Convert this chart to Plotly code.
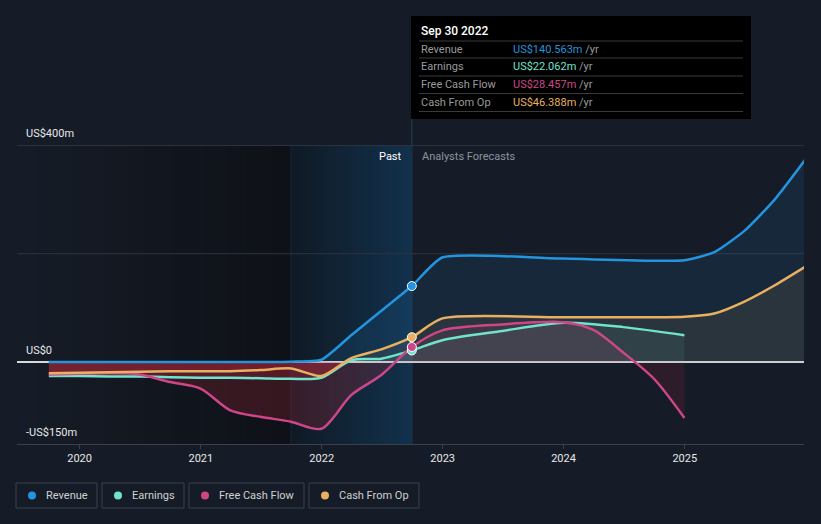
import plotly.graph_objects as go
import pandas as pd

# ---------------- data (US$ m, trailing twelve months / forecasts) ----------------
rev_dates = ["2019-09-30", "2019-12-31", "2020-03-31", "2020-06-30", "2020-09-30", "2020-12-31",
             "2021-03-31", "2021-06-30", "2021-09-30", "2021-12-31", "2022-03-31", "2022-06-30",
             "2022-09-30", "2022-12-31", "2023-12-31", "2024-12-31", "2025-03-31", "2025-06-30",
             "2025-09-30", "2025-12-31"]
rev_vals = [1, 1, 1, 1, 1, 1, 1, 1, 1.5, 5, 50, 95, 140.563, 193, 191, 188, 203, 242, 300, 373]

earn_dates = ["2019-09-30", "2019-12-31", "2020-03-31", "2020-06-30", "2020-09-30", "2020-12-31",
              "2021-03-31", "2021-06-30", "2021-09-30", "2021-12-31", "2022-03-31", "2022-06-30",
              "2022-09-30", "2022-12-31", "2023-06-30", "2023-12-31", "2024-06-30", "2024-12-31"]
earn_vals = [-25, -25, -26, -26, -27, -28, -28, -29, -30, -28, 4, 7, 22.062, 41, 58, 73, 65, 50]

fcf_dates = ["2019-09-30", "2019-12-31", "2020-03-31", "2020-06-30", "2020-09-30", "2020-12-31",
             "2021-03-31", "2021-06-30", "2021-09-30", "2021-12-31", "2022-03-31", "2022-06-30",
             "2022-09-30", "2022-12-31", "2023-06-30", "2023-12-31", "2024-03-31", "2024-06-30",
             "2024-09-30", "2024-12-31"]
fcf_vals = [-22, -21, -20, -22, -36, -48, -88, -100, -109, -122, -60, -23, 28.457, 59, 70, 74, 60,
            18, -30, -102]

cfo_dates = ["2019-09-30", "2019-12-31", "2020-03-31", "2020-06-30", "2020-09-30", "2020-12-31",
             "2021-03-31", "2021-06-30", "2021-09-30", "2021-12-31", "2022-03-31", "2022-06-30",
             "2022-09-30", "2022-12-31", "2023-12-31", "2024-12-31", "2025-03-31", "2025-06-30",
             "2025-09-30", "2025-12-31"]
cfo_vals = [-20, -19, -18, -17, -16, -16, -16, -14, -11, -25, 8, 24, 46.388, 81, 83, 84, 90, 112,
            142, 176]

series_names = ["Revenue", "Earnings", "Free Cash Flow", "Cash From Op"]
series_colors = ["#2394df", "#6fe3cc", "#cf4688", "#e9b062"]
pos_fill = ["rgba(35,148,223,0.10)", "rgba(111,227,204,0.08)",
            "rgba(207,70,136,0.12)", "rgba(233,176,98,0.09)"]
neg_fill_past = "rgba(215,45,65,0.20)"
neg_fill_future = "rgba(215,45,65,0.12)"
smooth = [0.55, 0.8, 0.8, 0.7]

x_ticks = ["2020-01-01", "2021-01-01", "2022-01-01", "2023-01-01", "2024-01-01", "2025-01-01"]
x_tick_labels = ["2020", "2021", "2022", "2023", "2024", "2025"]
y_grid = [200, 399.2]
y_labels = {"US$400m": 400, "US$0": 0, "-US$150m": -150}

x_range = ["2019-06-26", "2025-12-27"]
y_range = [-150, 400]
past_start = "2021-09-30"
now_date = "2022-09-30"
tooltip_title = "Sep 30 2022"

# ---------------- layout helpers ----------------
W, H = 821, 524
L, R, T, B = 17, 17, 145, 80
PW, PH = W - L - R, H - T - B


def px(x):
    return (x - L) / PW


def py(y):
    return (H - B - y) / PH


BG = (22, 28, 39)
BG_HEX = "#161c27"
FONT = "Roboto"


def mix(c0, c1, t):
    return "rgb(%d,%d,%d)" % tuple(round(a + (b - a) * t) for a, b in zip(c0, c1))


shapes = []
annotations = []


# background gradients drawn as thin opaque strips
def strip_band(d0, d1, c0, c1, n):
    t0, t1 = pd.Timestamp(d0), pd.Timestamp(d1)
    step = (t1 - t0) / n
    for k in range(n):
        a = t0 + step * k
        b = t0 + step * (k + 1.6) if k < n - 1 else t1
        shapes.append(dict(type="rect", xref="x", yref="y", x0=a, x1=b,
                           y0=y_range[0], y1=y_range[1], layer="below",
                           fillcolor=mix(c0, c1, k / (n - 1)), line=dict(width=0)))


strip_band(x_range[0], past_start, BG, (14, 17, 23), 60)
strip_band(past_start, now_date, (16, 26, 37), (18, 49, 76), 50)

# grid lines (above the background bands)
for g in y_grid:
    shapes.append(dict(type="line", xref="x", yref="y", x0=x_range[0], x1=x_range[1],
                       y0=g, y1=g, layer="below", line=dict(color="#2e3440", width=1)))

fig = go.Figure()

data = [(rev_dates, rev_vals), (earn_dates, earn_vals), (fcf_dates, fcf_vals), (cfo_dates, cfo_vals)]
now_ts = pd.Timestamp(now_date)


def sign_segments(dates, vals):
    ts = [pd.Timestamp(d) for d in dates]
    segs = []
    cur_x, cur_y = [ts[0]], [vals[0]]
    for i in range(len(vals) - 1):
        v0, v1 = vals[i], vals[i + 1]
        if (v0 < 0) != (v1 < 0):
            tz = ts[i] + (ts[i + 1] - ts[i]) * (v0 / (v0 - v1))
            cur_x.append(tz)
            cur_y.append(0)
            segs.append((cur_x, cur_y))
            cur_x, cur_y = [tz], [0]
        cur_x.append(ts[i + 1])
        cur_y.append(v1)
    segs.append((cur_x, cur_y))
    return segs


# fills (sign dependent colour)
for i, (d, v) in enumerate(data):
    for sx, sy in sign_segments(d, v):
        neg = sum(sy) < 0
        if neg:
            fc = neg_fill_past if sx[0] < now_ts else neg_fill_future
        else:
            fc = pos_fill[i]
        fig.add_trace(go.Scatter(
            x=sx, y=sy, mode="lines",
            line=dict(width=0, shape="spline", smoothing=smooth[i]),
            fill="tozeroy", fillcolor=fc, hoverinfo="skip", showlegend=False))

# lines
for i, ((d, v), name, c) in enumerate(zip(data, series_names, series_colors)):
    fig.add_trace(go.Scatter(
        x=d, y=v, name=name, mode="lines",
        line=dict(color=c, width=2.5, shape="spline", smoothing=smooth[i]),
        hoverinfo="skip", showlegend=False))

# markers at the current date
order = [1, 2, 3, 0]
mk_x, mk_y, mk_c = [], [], []
for i in order:
    d, v = data[i]
    j = d.index(now_date)
    mk_x.append(d[j])
    mk_y.append(v[j])
    mk_c.append(series_colors[i])
fig.add_trace(go.Scatter(
    x=mk_x, y=mk_y, mode="markers",
    marker=dict(size=9, color=mk_c, line=dict(color="#ffffff", width=1)),
    hoverinfo="skip", showlegend=False))

# vertical lines
shapes.append(dict(type="line", xref="x", yref="paper", x0=now_date, x1=now_date,
                   y0=0, y1=py(119), line=dict(color="#2b4058", width=1), layer="below"))
shapes.append(dict(type="line", xref="x", yref="y", x0=past_start, x1=past_start,
                   y0=y_range[0], y1=y_range[1], line=dict(color="rgba(40,70,100,0.35)", width=1),
                   layer="below"))

# y labels
for txt, val in y_labels.items():
    annotations.append(dict(xref="paper", yref="y", x=px(24), y=val, yshift=12,
                            text=txt, showarrow=False, xanchor="left", yanchor="middle",
                            font=dict(family=FONT, size=11, color="#e8e8e8")))

# Past / Analysts Forecasts
annotations.append(dict(xref="x", yref="paper", x=now_date, y=py(156), xshift=-8,
                        text="Past", showarrow=False, xanchor="right", yanchor="middle",
                        font=dict(family=FONT, size=11, color="#ffffff")))
annotations.append(dict(xref="x", yref="paper", x=now_date, y=py(156), xshift=8,
                        text="Analysts Forecasts", showarrow=False, xanchor="left",
                        yanchor="middle", font=dict(family=FONT, size=11, color="#8d939c")))

# tooltip box
shapes.append(dict(type="rect", xref="paper", yref="paper", x0=px(411), x1=px(751),
                   y0=py(119), y1=py(16), fillcolor="#000000", line=dict(width=0)))
for yy in [41, 58, 76, 93.5, 111.5]:
    shapes.append(dict(type="line", xref="paper", yref="paper", x0=px(419), x1=px(743),
                       y0=py(yy), y1=py(yy), line=dict(color="#3a3a3a", width=1)))
annotations.append(dict(xref="paper", yref="paper", x=px(419), y=py(31), text=tooltip_title,
                        showarrow=False, xanchor="left", yanchor="middle",
                        font=dict(family=FONT, size=12, color="#ffffff", weight=500)))
row_y = [49.5, 67, 84.8, 102.5]
for i, yy in enumerate(row_y):
    d, v = data[i]
    val = v[d.index(now_date)]
    annotations.append(dict(xref="paper", yref="paper", x=px(419), y=py(yy),
                            text=series_names[i], showarrow=False, xanchor="left",
                            yanchor="middle", font=dict(family=FONT, size=11, color="#9a9a9a")))
    annotations.append(dict(xref="paper", yref="paper", x=px(511), y=py(yy),
                            text=f"<span style='color:{series_colors[i]}'>US${val:.3f}m</span> /yr",
                            showarrow=False, xanchor="left", yanchor="middle",
                            font=dict(family=FONT, size=11, color="#9a9a9a")))

# legend boxes
leg_boxes = [(16, 97), (102, 184), (189, 304), (309, 419)]
for (x0, x1), name, c in zip(leg_boxes, series_names, series_colors):
    shapes.append(dict(type="rect", xref="paper", yref="paper", x0=px(x0), x1=px(x1),
                       y0=py(508), y1=py(483), line=dict(color="#3b414d", width=1),
                       fillcolor="rgba(0,0,0,0)"))
    shapes.append(dict(type="circle", xref="paper", yref="paper", x0=px(x0 + 12), x1=px(x0 + 20),
                       y0=py(499.5), y1=py(491.5), fillcolor=c, line=dict(width=0)))
    annotations.append(dict(xref="paper", yref="paper", x=px(x0 + 28), y=py(495.5), text=name,
                            showarrow=False, xanchor="left", yanchor="middle",
                            font=dict(family=FONT, size=11, color="#d0d0d0")))

fig.update_layout(
    width=W, height=H,
    margin=dict(l=L, r=R, t=T, b=B, pad=0),
    paper_bgcolor=BG_HEX, plot_bgcolor=BG_HEX,
    showlegend=False,
    shapes=shapes, annotations=annotations,
    font=dict(family=FONT, color="#e8e8e8"),
    xaxis=dict(type="date", range=x_range, tickvals=x_ticks, ticktext=x_tick_labels,
               showgrid=False, zeroline=False, showline=True, linecolor="#3b404a", linewidth=1,
               ticks="outside", ticklen=4, tickcolor="#3b404a",
               tickfont=dict(family=FONT, size=11, color="#e8e8e8"), fixedrange=True),
    yaxis=dict(range=y_range, tickvals=[0], showticklabels=False, showgrid=False,
               zeroline=True, zerolinecolor="#d9d9d9", zerolinewidth=1.5, fixedrange=True),
)

fig.write_html("out.html")
